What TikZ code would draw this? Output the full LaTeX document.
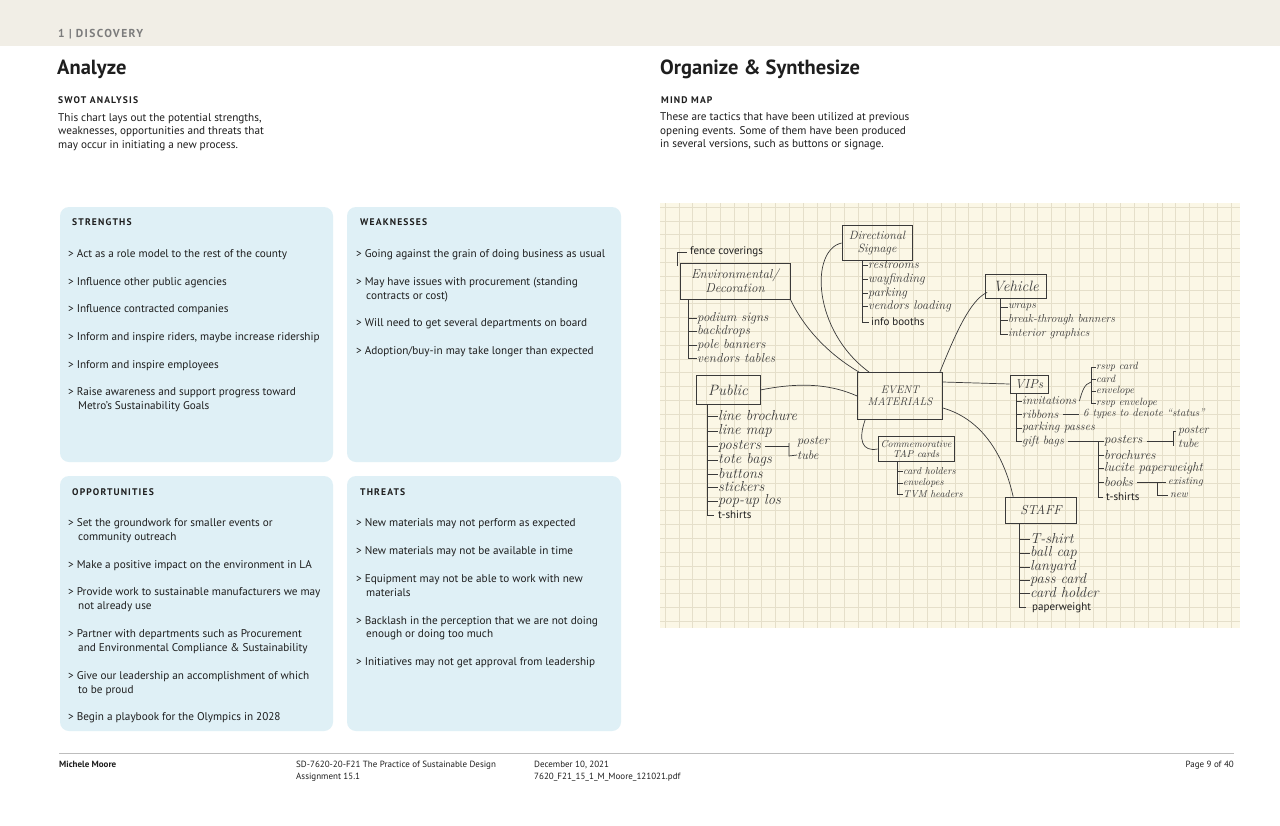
\documentclass[tikz,border=0pt]{standalone}
\usepackage{fontspec}
\newfontfamily\body{PT Sans}
\newfontfamily\bodyls{PT Sans}[LetterSpace=12]
\newcommand\hand{\rmfamily\itshape}
\usetikzlibrary{calc}
\definecolor{band}{HTML}{F1EEE6}
\definecolor{swbg}{HTML}{DFF0F6}
\definecolor{paper}{HTML}{FBF7E6}
\definecolor{gridc}{HTML}{E5DFCA}
\definecolor{ink}{HTML}{3A3A3A}
\definecolor{graytxt}{HTML}{7C7C7C}
\definecolor{rulec}{HTML}{BDBDBD}
\definecolor{txt}{HTML}{1E1E1E}
\tikzset{
  sw/.style={anchor=base west, inner sep=0, text=txt, font=\body\fontsize{11.2}{13}\selectfont},
  swhead/.style={anchor=base west, inner sep=0, text=txt, font=\bodyls\bfseries\fontsize{9.6}{11}\selectfont},
  swbox/.style={fill=swbg, draw=none, rounded corners=9pt},
  foot/.style={anchor=base west, inner sep=0, text=txt, font=\body\fontsize{9}{10}\selectfont},
  hw/.style={anchor=west, inner sep=0, text=ink},
  pr/.style={anchor=west, inner sep=0, text=txt, font=\body\fontsize{11}{12}\selectfont},
  hbox/.style={draw=ink, line width=0.7pt, text=ink, inner sep=1pt, align=center},
  con/.style={draw=ink, line width=0.7pt},
}
\begin{document}
\begin{tikzpicture}[x=1pt,y=-1pt]
\path[use as bounding box] (0,0) rectangle (1280,825);
\fill[white] (0,0) rectangle (1280,825);
% top band
\fill[band] (0,0) rectangle (1280,46);
\node[anchor=base west, inner sep=0, text=graytxt, font=\bodyls\bfseries\fontsize{11.5}{12}\selectfont] (sect) at (58,37) {1 {\addfontfeatures{LetterSpace=0}|} DISCOVERY};
% left header
\node[anchor=base west, inner sep=0, text=txt, font=\body\bfseries\fontsize{20.5}{24}\selectfont] (t1) at (57,74) {Analyze};
\node[swhead] (h1) at (58,103) {SWOT ANALYSIS};
\node[sw] (d1) at (58,121) {This chart lays out the potential strengths,};
\node[sw] (d2) at (58,134.5) {weaknesses, opportunities and threats that};
\node[sw] (d3) at (58,148) {may occur in initiating a new process.};
% right header
\node[anchor=base west, inner sep=0, text=txt, font=\body\bfseries\fontsize{20.5}{24}\selectfont] (t2) at (660,74) {Organize \& Synthesize};
\node[swhead] (h2) at (661,103) {MIND MAP};
\node[sw] (e1) at (660,120.5) {These are tactics that have been utilized at previous};
\node[sw] (e2) at (660,134) {opening events. Some of them have been produced};
\node[sw] (e3) at (660,147.5) {in several versions, such as buttons or signage.};

% SWOT boxes
\path[swbox] (60,207) rectangle (333,462);
\path[swbox] (347,207) rectangle (621,462);
\path[swbox] (60,476) rectangle (333,731);
\path[swbox] (347,476) rectangle (621,731);
\node[swhead] (hs) at (72,225.5) {STRENGTHS};
\node[swhead] (hw) at (360,225.5) {WEAKNESSES};
\node[swhead] (ho) at (72,495.5) {OPPORTUNITIES};
\node[swhead] (ht) at (360,495.5) {THREATS};
\foreach \x/\y/\t [count=\i] in {
  68/257/{> Act as a role model to the rest of the county},
  68/285/{> Influence other public agencies},
  68/312/{> Influence contracted companies},
  68/340/{> Inform and inspire riders, maybe increase ridership},
  68/368/{> Inform and inspire employees},
  68/395/{> Raise awareness and support progress toward},
  78/409/{Metro’s Sustainability Goals}}
  \node[sw] (s\i) at (\x,\y) {\t};
\foreach \x/\y/\t [count=\i] in {
  356/257/{> Going against the grain of doing business as usual},
  356/285/{> May have issues with procurement (standing},
  366/299/{contracts or cost)},
  356/326/{> Will need to get several departments on board},
  356/354/{> Adoption/buy-in may take longer than expected}}
  \node[sw] (w\i) at (\x,\y) {\t};
\foreach \x/\y/\t [count=\i] in {
  68/526/{> Set the groundwork for smaller events or},
  78/540/{community outreach},
  68/568/{> Make a positive impact on the environment in LA},
  68/595/{> Provide work to sustainable manufacturers we may},
  78/609/{not already use},
  68/637/{> Partner with departments such as Procurement},
  78/651/{and Environmental Compliance \& Sustainability},
  68/679/{> Give our leadership an accomplishment of which},
  78/693/{to be proud},
  68/720/{> Begin a playbook for the Olympics in 2028}}
  \node[sw] (o\i) at (\x,\y) {\t};
\foreach \x/\y/\t [count=\i] in {
  356/526/{> New materials may not perform as expected},
  356/554/{> New materials may not be available in time},
  356/582/{> Equipment may not be able to work with new},
  366/596/{materials},
  356/624/{> Backlash in the perception that we are not doing},
  366/637/{enough or doing too much},
  356/665/{> Initiatives may not get approval from leadership}}
  \node[sw] (th\i) at (\x,\y) {\t};

% footer
\draw[rulec, line width=0.8pt] (59,753) -- (1234,753);
\node[foot, font=\body\bfseries\fontsize{9}{10}\selectfont] (f1) at (59,767) {Michele Moore};
\node[foot] (f2) at (296,767) {SD-7620-20-F21 The Practice of Sustainable Design};
\node[foot] (f3) at (296,779) {Assignment 15.1};
\node[foot] (f4) at (534,767) {December 10, 2021};
\node[foot] (f5) at (534,779) {7620\_F21\_15\_1\_M\_Moore\_121021.pdf};
\node[foot, anchor=base east] (f6) at (1234,767) {Page 9 of 40};

% mind map paper
\fill[paper] (660,203) rectangle (1240,628);
\begin{scope}
\clip (660,203) rectangle (1240,628);
\foreach \g in {0,...,42} \draw[gridc, line width=0.6pt] ({665+\g*13.8},203) -- ({665+\g*13.8},628);
\foreach \g in {0,...,31} \draw[gridc, line width=0.6pt] (660,{207+\g*13.8}) -- (1240,{207+\g*13.8});
\end{scope}

% main boxes
\node[hbox, minimum width=85, minimum height=47, font=\hand\fontsize{11}{12}\selectfont] (ev) at (900,396) {EVENT\\MATERIALS};
\node[hbox, minimum width=70, minimum height=35, font=\hand\fontsize{12}{13}\selectfont] (dir) at (877,243) {Directional\\Signage};
\node[hbox, minimum width=110, minimum height=36, font=\hand\fontsize{13}{14}\selectfont] (env) at (735,281) {Environmental/\\Decoration};
\node[hbox, minimum width=64, minimum height=29, font=\hand\fontsize{15}{16}\selectfont] (pub) at (728,390) {Public};
\node[hbox, minimum width=76, minimum height=25, font=\hand\fontsize{10}{10.5}\selectfont] (tap) at (916,449) {Commemorative\\TAP cards};
\node[hbox, minimum width=61, minimum height=24, font=\hand\fontsize{15}{16}\selectfont] (veh) at (1016,286) {Vehicle};
\node[hbox, minimum width=38, minimum height=18, font=\hand\fontsize{13}{14}\selectfont] (vip) at (1029,384) {VIPs};
\node[hbox, minimum width=71, minimum height=26, font=\hand\fontsize{13}{14}\selectfont] (staff) at (1041,510) {STAFF};

% connectors to EVENT MATERIALS
\draw[con] (env.south east) .. controls (805,330) and (830,355) .. ($(ev.north west)+(2,0)$);
\draw[con] (dir.west) .. controls (810,250) and (812,330) .. ($(ev.north west)+(12,0)$);
\draw[con] (pub.east) .. controls (800,382) and (830,384) .. (ev.west);
\draw[con] ($(ev.north east)+(-3,0)$) .. controls (955,335) and (970,300) .. ($(veh.south west)+(2,-6)$);
\draw[con] ($(ev.east)+(0,-14)$) -- (vip.west);
\draw[con] ($(ev.south west)+(8,0)$) .. controls (858,440) and (862,452) .. (tap.west);
\draw[con] ($(ev.east)+(0,12)$) .. controls (985,420) and (1005,460) .. ($(staff.north west)+(8,0)$);

% Directional items
\draw[con] (862,261) -- (862,322) -- (869,322);
\foreach \y/\t [count=\i] in {265/restrooms, 279/wayfinding, 293/parking, 306/vendors loading}{
  \coordinate (dt\i) at (862,\y);
  \node[hw, font=\hand\fontsize{12.5}{13}\selectfont] (di\i) at (868,\y) {\t};
  \draw[con] (dt\i) -- (di\i.west);
}
\node[pr] (di5) at (871,322) {info booths};

% Environmental items
\coordinate (fc) at (677,266);
\node[pr] (fence) at (690,252) {fence coverings};
\draw[con, line width=1pt] (fc) |- ($(fence.west)+(-3,0)$);
\draw[con] (688,299) -- (688,358);
\foreach \y/\t [count=\i] in {318/podium signs, 331/backdrops, 345/pole banners, 358/vendors tables}{
  \coordinate (et\i) at (688,\y);
  \node[hw, font=\hand\fontsize{13}{13}\selectfont] (ei\i) at (697,\y) {\t};
  \draw[con] (et\i) -- (ei\i.west);
}

% Public items
\draw[con] (707,405) -- (707,515) -- (714,515);
\foreach \y/\t [count=\i] in {416/line brochure, 431/line map, 446/posters, 460/tote bags, 474/buttons, 487/stickers, 501/pop-up los}{
  \coordinate (pt\i) at (707,\y);
  \node[hw, font=\hand\fontsize{14.5}{15}\selectfont] (pi\i) at (718,\y) {\t};
  \draw[con] (pt\i) -- (pi\i.west);
}
\node[pr] (pi8) at (718,515) {t-shirts};
\node[hw, font=\hand\fontsize{12.5}{13}\selectfont] (pp1) at (797,442) {poster};
\node[hw, font=\hand\fontsize{12.5}{13}\selectfont] (pp2) at (797,455) {tube};
\coordinate (pb) at (789,446);
\draw[con] ($(pi3.east)+(4,0)$) -- (pb);
\draw[con] (789,443) -- (789,456) -- (pp2.west);

% TAP items
\draw[con] (897,462) -- (897,494);
\foreach \y/\t [count=\i] in {471/card holders, 483/envelopes, 494/TVM headers}{
  \coordinate (tt\i) at (897,\y);
  \node[hw, font=\hand\fontsize{10}{10}\selectfont] (ti\i) at (903,\y) {\t};
  \draw[con] (tt\i) -- (ti\i.west);
}

% Vehicle items
\draw[con] (1000,298) -- (1000,334);
\foreach \y/\t [count=\i] in {307/wraps, 320/break-through banners, 334/interior graphics}{
  \coordinate (vt\i) at (1000,\y);
  \node[hw, font=\hand\fontsize{11.5}{12}\selectfont] (vi\i) at (1008,\y) {\t};
  \draw[con] (vt\i) -- (vi\i.west);
}

% VIP items
\draw[con] (1016,393) -- (1016,441);
\foreach \y/\t [count=\i] in {401/invitations, 414/ribbons, 428/parking passes, 441/gift bags}{
  \coordinate (pt\i) at (1016,\y);
  \node[hw, font=\hand\fontsize{12}{12}\selectfont] (vp\i) at (1022,\y) {\t};
  \draw[con] (pt\i) -- (vp\i.west);
}
% invitations bracket
\draw[con] (1091,367) -- (1091,404);
\foreach \y/\t [count=\i] in {367/rsvp card, 379/card, 391/envelope, 403/rsvp envelope}{
  \coordinate (it\i) at (1091,\y);
  \node[hw, font=\hand\fontsize{10.5}{11}\selectfont] (ii\i) at (1096,\y) {\t};
  \draw[con] (it\i) -- (ii\i.west);
}
\draw[con] ($(vp1.east)+(3,0)$) .. controls (1082,392) and (1084,384) .. ($(it2)+(0,3)$);
% ribbons
\node[hw, font=\hand\fontsize{11}{11}\selectfont] (rib) at (1083,414) {6 types to denote “status”};
\draw[con] ($(vp2.east)+(4,0)$) -- ($(rib.west)+(-4,0)$);
% gift bags
\coordinate (gb) at (1098,441);
\draw[con] ($(vp4.east)+(4,0)$) -- (gb);
\draw[con] (1098,441) -- (1098,497) -- (1103,497);
\foreach \y/\t [count=\i] in {441/posters, 455/brochures, 468/lucite paperweight, 482/books}{
  \coordinate (gt\i) at (1098,\y);
  \node[hw, font=\hand\fontsize{13}{13}\selectfont] (gi\i) at (1104,\y) {\t};
  \draw[con] (gt\i) -- (gi\i.west);
}
\node[pr] (gi5) at (1106,497) {t-shirts};
% gift posters -> poster tube
\node[hw, font=\hand\fontsize{12}{12}\selectfont] (gp1) at (1178,431) {poster};
\node[hw, font=\hand\fontsize{12}{12}\selectfont] (gp2) at (1178,443) {tube};
\coordinate (gpb) at (1173,441);
\draw[con] ($(gi1.east)+(4,0)$) -- (gpb);
\draw[con] ($(gp1.west)+(-2,0)$) -| (1173,446);
% books -> existing / new
\node[hw, font=\hand\fontsize{10.5}{11}\selectfont] (bk1) at (1168,482) {existing};
\node[hw, font=\hand\fontsize{10.5}{11}\selectfont] (bk2) at (1170,495) {new};
\coordinate (bkb) at (1157,482);
\draw[con] ($(gi4.east)+(4,0)$) -- ($(bk1.west)+(-2,0)$);
\draw[con] (bkb) |- ($(bk2.west)+(-2,0)$);

% STAFF items
\draw[con] (1019,523) -- (1019,607) -- (1026,607);
\foreach \y/\t [count=\i] in {539/T-shirt, 553/ball cap, 567/lanyard, 580/pass card, 593/card holder}{
  \coordinate (st\i) at (1019,\y);
  \node[hw, font=\hand\fontsize{14.5}{15}\selectfont] (si\i) at (1030,\y) {\t};
  \draw[con] (st\i) -- (si\i.west);
}
\node[pr] (si6) at (1032,608) {paperweight};
\end{tikzpicture}
\end{document}
